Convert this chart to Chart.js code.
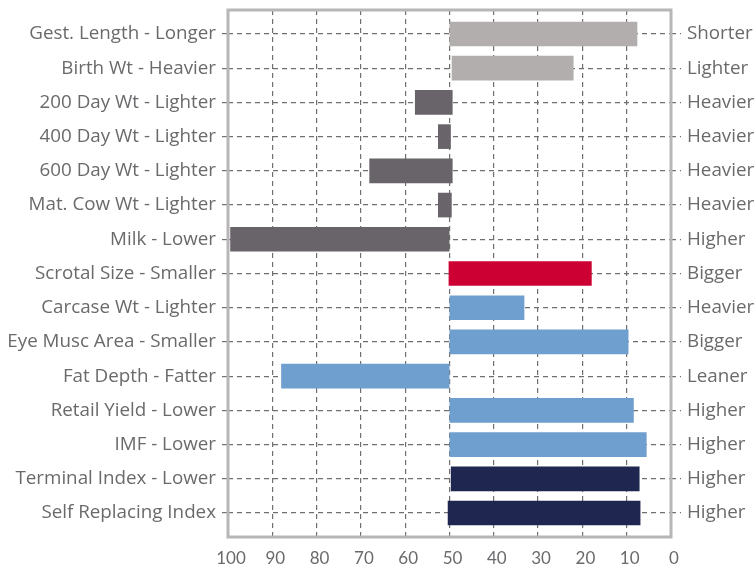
<!DOCTYPE html>
<html>
<head>
<meta charset="utf-8">
<script src="https://cdn.jsdelivr.net/npm/chart.js@4.4.1/dist/chart.umd.min.js"></script>
<style>
  html, body { margin: 0; padding: 0; background: #fff; }
  #wrap { width: 756px; height: 566px; }
</style>
</head>
<body>
<div id="wrap"><canvas id="chart"></canvas></div>
<script>
// traits, low end (left label) and high end (right label)
const leftLabels = [
  'Gest. Length - Longer', 'Birth Wt - Heavier', '200 Day Wt - Lighter', '400 Day Wt - Lighter',
  '600 Day Wt - Lighter', 'Mat. Cow Wt - Lighter', 'Milk - Lower', 'Scrotal Size - Smaller',
  'Carcase Wt - Lighter', 'Eye Musc Area - Smaller', 'Fat Depth - Fatter', 'Retail Yield - Lower',
  'IMF - Lower', 'Terminal Index - Lower', 'Self Replacing Index'
];
const rightLabels = [
  'Shorter', 'Lighter', 'Heavier', 'Heavier', 'Heavier', 'Heavier', 'Higher', 'Bigger',
  'Heavier', 'Bigger', 'Leaner', 'Higher', 'Higher', 'Higher', 'Higher'
];

// percentile bars: each runs from barStart to barEnd
const barStart = [50, 49.5, 49.3, 49.7, 49.3, 49.5, 50, 50.2, 50, 50, 50, 50, 50, 49.7, 50.4];
const barEnd   = [7.6, 22, 57.8, 52.6, 68.1, 52.6, 99.5, 17.9, 33.1, 9.6, 88, 8.4, 5.5, 7.1, 6.9];

const xTicks = [100, 90, 80, 70, 60, 50, 40, 30, 20, 10, 0];

const barColors = [
  '#b3aeae', '#b3aeae', '#69646a', '#69646a', '#69646a', '#69646a', '#69646a', '#cc0033',
  '#6f9fcf', '#6f9fcf', '#6f9fcf', '#6f9fcf', '#6f9fcf', '#1f2751', '#1f2751'
];

const textColor = '#6a6a6d';
const gridColor = '#6f6f6f';
const labelFont = { family: 'Open Sans', size: 18.8 };

// frame around the plot area
const framePlugin = {
  id: 'frame',
  beforeDatasetsDraw(chart) {
    const { ctx, chartArea: a } = chart;
    ctx.save();
    ctx.strokeStyle = '#b8b6b7';
    ctx.lineWidth = 3;
    ctx.strokeRect(a.left, a.top, a.right - a.left, a.bottom - a.top);
    ctx.restore();
  }
};

const data = barStart.map((s, i) => ({ x: [s, barEnd[i]], y: i }));

new Chart(document.getElementById('chart'), {
  type: 'bar',
  data: {
    datasets: [{
      data: data,
      backgroundColor: barColors,
      borderWidth: 0,
      barPercentage: 0.72,
      categoryPercentage: 1,
      yAxisID: 'y'
    }]
  },
  options: {
    indexAxis: 'y',
    responsive: true,
    maintainAspectRatio: false,
    animation: false,
    layout: { padding: { top: 10, left: 0, right: 0, bottom: 0 } },
    plugins: { legend: { display: false }, tooltip: { enabled: false } },
    scales: {
      x: {
        type: 'linear',
        min: 0,
        max: 100,
        reverse: true,
        afterBuildTicks: s => { s.ticks = xTicks.map(v => ({ value: v })); },
        afterFit: s => { s.height = 29; },
        border: { display: false, dash: [5, 4] },
        grid: {
          color: ctx => (ctx.tick && (ctx.tick.value === 0 || ctx.tick.value === 100)) ? 'rgba(0,0,0,0)' : gridColor,
          lineWidth: 1.2,
          drawTicks: false,
          tickLength: 0
        },
        ticks: {
          color: textColor,
          font: { family: 'Lato', size: 17 },
          padding: 11,
          labelOffset: 3,
          maxRotation: 0,
          autoSkip: false
        }
      },
      y: {
        type: 'linear',
        position: 'left',
        min: -0.7,
        max: 14.7,
        reverse: true,
        offset: false,
        afterBuildTicks: s => { s.ticks = leftLabels.map((_, i) => ({ value: i })); },
        afterFit: s => { s.width = 228; s.paddingTop = 0; s.paddingBottom = 0; },
        border: { display: false, dash: [5, 4] },
        grid: {
          offset: false,
          color: gridColor,
          lineWidth: 1.2,
          tickLength: 6,
          tickColor: gridColor,
          tickBorderDash: [5, 4]
        },
        ticks: {
          color: textColor,
          font: labelFont,
          padding: 6,
          autoSkip: false,
          callback: v => leftLabels[v]
        }
      },
      yRight: {
        type: 'linear',
        position: 'right',
        min: -0.7,
        max: 14.7,
        reverse: true,
        offset: false,
        afterBuildTicks: s => { s.ticks = rightLabels.map((_, i) => ({ value: i })); },
        afterFit: s => { s.width = 85; s.paddingTop = 0; s.paddingBottom = 0; },
        border: { display: false, dash: [5, 4] },
        grid: {
          offset: false,
          drawOnChartArea: false,
          color: gridColor,
          lineWidth: 1.2,
          tickLength: 10,
          tickBorderDash: [5, 4]
        },
        ticks: {
          color: textColor,
          font: labelFont,
          padding: 6,
          autoSkip: false,
          callback: v => rightLabels[v]
        }
      }
    }
  },
  plugins: [framePlugin]
});
</script>
</body>
</html>
